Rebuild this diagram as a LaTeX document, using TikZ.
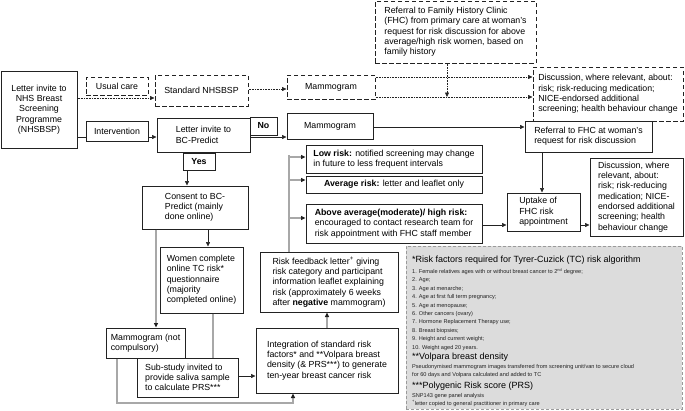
\documentclass[tikz,border=0pt]{standalone}
\usepackage{fontspec}
\setmainfont{Liberation Sans}
\usetikzlibrary{arrows.meta}
\definecolor{ink}{HTML}{222222}
\definecolor{lgrey}{HTML}{A8A8A8}
\definecolor{notefill}{HTML}{DCDCDC}
\definecolor{noteedge}{HTML}{9A9A9A}
\tikzset{
  >={Triangle[length=4.5pt,width=4pt]},
  font=\fontsize{8.8}{10.3}\selectfont,
  box/.style={draw=ink, fill=white, line width=1pt, align=left, inner sep=2pt},
  dbox/.style={box, dash pattern=on 4.5pt off 2.5pt},
  tag/.style={box, align=center, font=\fontsize{8.8}{10.3}\selectfont\bfseries},
  sz/.style 2 args={minimum width=#1pt, minimum height=#2pt},
  arr/.style={->, draw=ink, line width=0.6pt},
  dotarr/.style={->, draw=ink, line width=0.6pt, dash pattern=on 0.7pt off 0.9pt},
  gline/.style={draw=lgrey, line width=1.1pt},
  garr/.style={gline, -{Triangle[length=4.5pt,width=4pt,color=ink]}},
  note/.style={draw=noteedge, fill=notefill, line width=0.7pt, dash pattern=on 3pt off 2pt},
  notehead/.style={inner sep=0pt, font=\fontsize{9}{11}\selectfont},
  notetxt/.style={inner sep=0pt, align=left, font=\fontsize{5.6}{8.4}\selectfont, text=ink}
}
\begin{document}
\begin{tikzpicture}[x=1pt,y=-1pt]
\useasboundingbox (0,0) rectangle (685,410);

\node[box, sz={76}{77}, align=center] (nhs) at (39,109.5) {Letter invite to\\NHS Breast\\Screening\\Programme\\(NHSBSP)};
\node[dbox, sz={93}{31}, align=center] (std) at (201.5,90.5) {Standard NHSBSP};
\node[dbox, sz={88}{24}] (mamA) at (331,87) {Mammogram};
\node[dbox, sz={161}{62}] (fhcA) at (455.5,32) {Referral to Family History Clinic\\(FHC) from primary care at woman's\\request for risk discussion for above\\average/high risk women, based on\\family history};
\node[dbox, sz={150}{54}] (discA) at (608,94) {Discussion, where relevant, about:\\risk; risk-reducing medication;\\NICE-endorsed additional\\screening; health behaviour change};
\node[box, sz={93}{34}] (bcp) at (203.5,135) {Letter invite to\\BC-Predict};
\node[box, sz={86}{26}] (mamB) at (330,126) {Mammogram};
\node[box, sz={127}{31}] (fhcB) at (588.5,136.5) {Referral to FHC at woman's\\request for risk discussion};
\node[box, sz={106}{43}] (consent) at (195,207.5) {Consent to BC-\\Predict (mainly\\done online)};
\node[box, sz={176}{28}] (low) at (394,159) {\textbf{Low risk:} notified screening may change\\in future to less frequent intervals};
\node[box, sz={176}{17}] (avg) at (394,184.5) {\textbf{Average risk:} letter and leaflet only};
\node[box, sz={176}{39}] (above) at (394,223.5) {\textbf{Above average(moderate)/ high risk:}\\encouraged to contact research team for\\risk appointment with FHC staff member};
\node[box, sz={73}{38}] (uptake) at (543.5,212) {Uptake of\\FHC risk\\appointment};
\node[box, sz={93}{78}] (discB) at (636.5,197) {Discussion, where\\relevant, about:\\risk; risk-reducing\\medication; NICE-\\endorsed additional\\screening; health\\behaviour change};
\node[box, sz={83}{66}] (women) at (201.5,280) {Women complete\\online TC risk*\\questionnaire\\(majority\\completed online)};
\node[box, sz={138}{60}] (feedback) at (329,282) {Risk feedback letter\textsuperscript{+} giving\\risk category and participant\\information leaflet explaining\\risk (approximately 6 weeks\\after \textbf{negative} mammogram)};
\node[box, sz={142}{65}] (integ) at (327,360.5) {Integration of standard risk\\factors* and **Volpara breast\\density (\& PRS***) to generate\\ten-year breast cancer risk};
\node[box, sz={79}{30}] (mamC) at (145.5,343) {Mammogram (not\\compulsory)};
\node[box, sz={101}{39}] (sub) at (187.5,377.5) {Sub-study invited to\\provide saliva sample\\to calculate PRS***};

\node[note, sz={276}{163}] (tcnote) at (544,327.5) {};
\node[notehead, anchor=base west] (tchead) at (412,262) {*Risk factors required for Tyrer-Cuzick (TC) risk algorithm};
\node[notetxt, anchor=north west] (tclist) at (412,268) {1. Female relatives ages with or without breast cancer to 2\textsuperscript{nd} degree;\\2. Age;\\3. Age at menarche;\\4. Age at first full term pregnancy;\\5. Age at menopause;\\6. Other cancers (ovary)\\7. Hormone Replacement Therapy use;\\8. Breast biopsies;\\9. Height and current weight;\\10. Weight aged 20 years.};
\node[notehead, anchor=base west] (volhead) at (412,359) {**Volpara breast density};
\node[notetxt, anchor=north west] (voltext) at (412,364) {Pseudonymised mammogram images transferred from screening unit/van to secure cloud\\for 60 days and Volpara calculated and added to TC};
\node[notehead, anchor=base west] (prshead) at (412,388) {***Polygenic Risk score (PRS)};
\node[notetxt, anchor=base west] (prstext) at (412,397) {SNP143 gene panel analysis};
\node[notetxt, anchor=base west] (gpnote) at (412,405) {\textsuperscript{+}letter copied to general practitioner in primary care};

\coordinate (drop) at (447,97);
\coordinate (loop) at (293,403);
\coordinate (trunk) at (289,155);

\draw[dotarr] (nhs.east |- 0,98) -- (std.west |- 0,98);
\draw[dotarr] (std.east |- 0,89) -- (mamA.west |- 0,89);
\draw[dotarr] (mamA.east |- 0,77) -- (discA.west |- 0,77);
\draw[dotarr] (mamA.east |- 0,97) -- (discA.west |- 0,97);
\draw[dotarr] (fhcA.south -| drop) -- (drop);
\draw[arr] (nhs.east |- 0,137) -- (bcp.west |- 0,137);
\draw[arr] (bcp.east |- 0,137) -- (mamB.west |- 0,137);
\draw[arr] (mamB.east |- 0,127) -- (fhcB.west |- 0,127);
\draw[arr] (bcp.south -| 187,0) -- (consent.north -| 187,0);
\draw[arr] (fhcB.south -| 542,0) -- (uptake.north -| 542,0);
\draw[arr] (above.east |- 0,225) -- (uptake.west |- 0,225);
\draw[arr] (uptake.east |- 0,225) -- (discB.west |- 0,225);
\draw[arr] (consent.south -| 208,0) -- (women.north -| 208,0);
\draw[garr] (consent.south -| 156,0) -- (mamC.north -| 156,0);
\draw[gline] (women.south -| 213,0) -- (sub.north -| 213,0);
\draw[arr] (sub.east |- 0,376) -- (integ.west |- 0,376);
\draw[garr] (mamC.south -| 117,0) |- (loop) -- (integ.south -| loop);
\draw[garr] (integ.north) -- (integ.north |- feedback.south);
\draw[gline] (feedback.north -| trunk) -- (trunk);
\draw[garr] (trunk |- 0,157) -- (low.west |- 0,157);
\draw[garr] (trunk |- 0,180) -- (avg.west |- 0,180);
\draw[garr] (trunk |- 0,218) -- (above.west |- 0,218);

\node[dbox, sz={62}{18}, align=center] (usual) at (117,86) {Usual care};
\node[box, sz={62}{20}, align=center] (interv) at (117,131) {Intervention};
\node[tag, sz={27}{18}] (no) at (263.5,126) {No};
\node[tag, sz={32}{17}] (yes) at (199,161.5) {Yes};
\end{tikzpicture}
\end{document}
